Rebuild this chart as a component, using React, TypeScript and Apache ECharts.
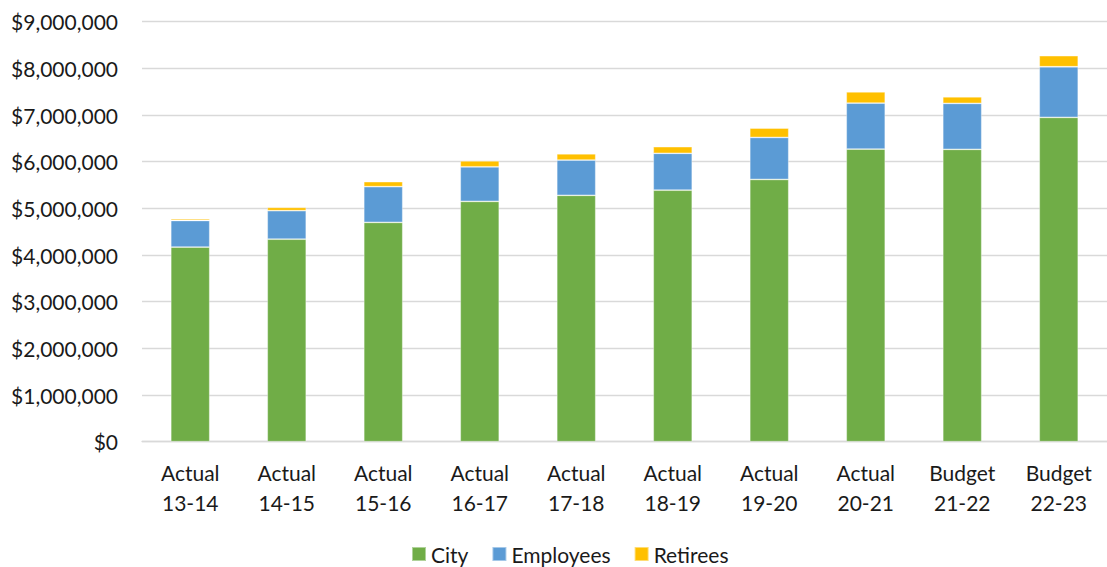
import React, { useEffect, useRef } from "react";
import * as echarts from "echarts";

// Fiscal-year categories (two-line labels)
const categories = [
  "Actual\n13-14",
  "Actual\n14-15",
  "Actual\n15-16",
  "Actual\n16-17",
  "Actual\n17-18",
  "Actual\n18-19",
  "Actual\n19-20",
  "Actual\n20-21",
  "Budget\n21-22",
  "Budget\n22-23",
];

// Contributions by source, in dollars
const city = [4170000, 4340000, 4700000, 5150000, 5280000, 5390000, 5620000, 6270000, 6265000, 6950000];
const employees = [570000, 610000, 765000, 740000, 755000, 790000, 900000, 985000, 985000, 1085000];
const retirees = [36000, 72000, 107000, 128000, 135000, 141000, 200000, 242000, 141000, 236000];

const seriesNames = ["City", "Employees", "Retirees"];
const seriesColors = ["#70AD47", "#5B9BD5", "#FFC000"];

const FONT = "Lato, 'Noto Sans', sans-serif";

const fmtDollars = (v: number) => "$" + Math.round(v).toLocaleString("en-US");

export default function App() {
  const ref = useRef<HTMLDivElement>(null);

  useEffect(() => {
    if (!ref.current) return;
    const chart = echarts.init(ref.current, undefined, { renderer: "svg" });
    const values = [city, employees, retirees];

    chart.setOption({
      animation: false,
      backgroundColor: "#ffffff",
      textStyle: { fontFamily: FONT },
      grid: { left: 142, top: 21.7, width: 974, height: 420, containLabel: false },
      legend: {
        left: 411,
        top: 542,
        padding: 0,
        itemWidth: 14,
        itemHeight: 14,
        itemGap: 23,
        icon: "rect",
        data: seriesNames,
        textStyle: { fontFamily: FONT, fontSize: 21, lineHeight: 24, color: "#1a1a1a" },
      },
      xAxis: {
        type: "category",
        data: categories,
        axisTick: { show: false },
        axisLine: { show: true, lineStyle: { color: "#d9d9d9", width: 1.3 } },
        axisLabel: {
          fontFamily: FONT,
          fontSize: 21,
          color: "#1a1a1a",
          lineHeight: 30,
          margin: 16,
          interval: 0,
        },
      },
      yAxis: {
        type: "value",
        min: 0,
        max: 9000000,
        interval: 1000000,
        axisLine: { show: false },
        axisTick: { show: false },
        splitLine: { show: true, lineStyle: { color: "#d9d9d9", width: 1.3 } },
        axisLabel: {
          fontFamily: FONT,
          fontSize: 21,
          color: "#1a1a1a",
          margin: 24,
          formatter: (v: number) => fmtDollars(v),
        },
      },
      series: seriesNames.map((name, i) => ({
        name,
        type: "bar",
        stack: "total",
        barWidth: 39,
        data: values[i],
        itemStyle: {
          color: seriesColors[i],
          borderColor: "rgba(255,255,255,0.45)",
          borderWidth: 0.8,
        },
      })),
    });

    return () => chart.dispose();
  }, []);

  return (
    <div
      style={{
        position: "fixed",
        left: 0,
        top: 0,
        width: 1107,
        height: 567,
        overflow: "hidden",
        background: "#fff",
      }}
    >
      <div ref={ref} style={{ width: 1107, height: 567 }} />
    </div>
  );
}
